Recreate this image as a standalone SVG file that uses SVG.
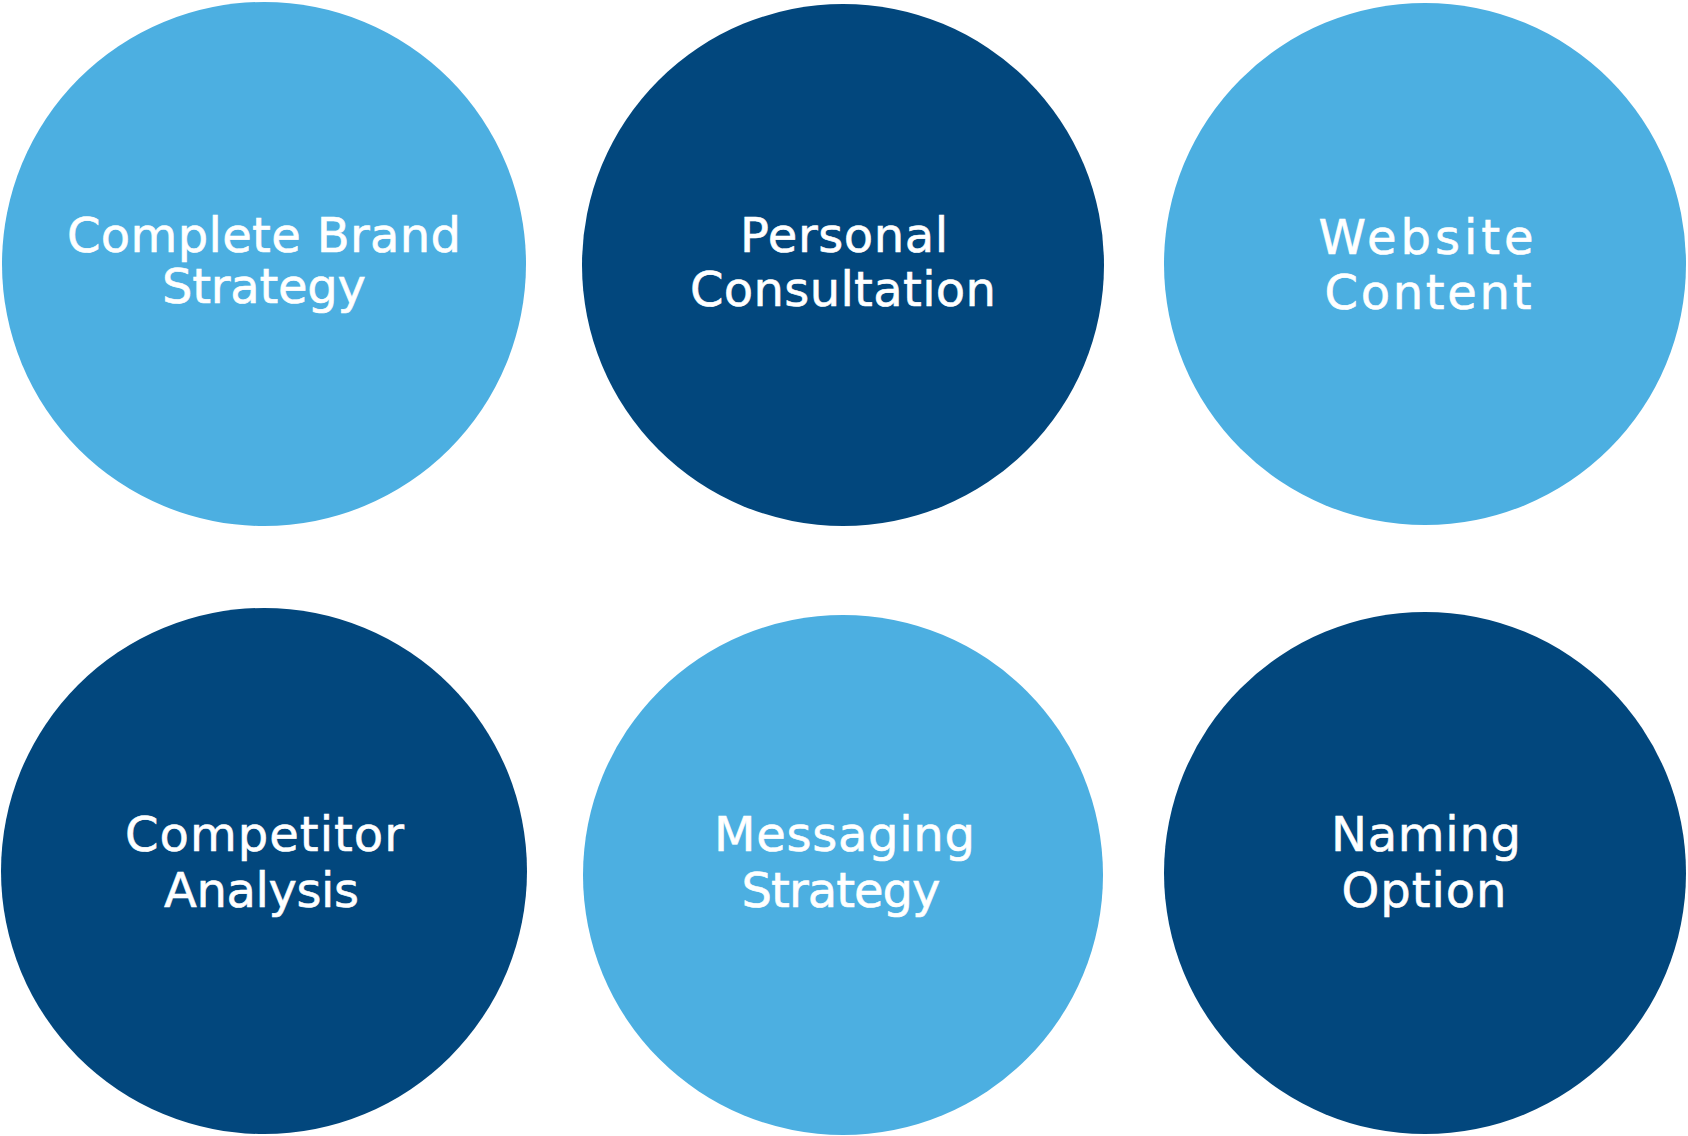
<svg xmlns="http://www.w3.org/2000/svg" width="1688" height="1136" viewBox="0 0 1688 1136">
  <style>
    .light { fill: #4CAFE1; }
    .dark { fill: #02477D; }
    .label { fill: #FFFFFF; stroke: #FFFFFF; stroke-width: 0.6px; font-family: "DejaVu Sans", "Noto Sans", sans-serif; font-size: 48px; text-anchor: middle; }
  </style>
  <rect width="1688" height="1136" fill="#FFFFFF"/>
  <g id="connectors"></g>
  <g id="node-complete-brand-strategy">
    <circle class="light" cx="264" cy="264" r="262"/>
    <text class="label" x="264" y="252" textLength="394" lengthAdjust="spacing">Complete Brand</text>
    <text class="label" x="264" y="303" textLength="204" lengthAdjust="spacing">Strategy</text>
  </g>
  <g id="node-personal-consultation">
    <circle class="dark" cx="843" cy="265" r="261"/>
    <text class="label" x="844" y="252" textLength="208" lengthAdjust="spacing">Personal</text>
    <text class="label" x="843" y="306" textLength="306" lengthAdjust="spacing">Consultation</text>
  </g>
  <g id="node-website-content">
    <circle class="light" cx="1425" cy="264" r="261"/>
    <text class="label" x="1426" y="254" textLength="215" lengthAdjust="spacing">Website</text>
    <text class="label" x="1428" y="309" textLength="207" lengthAdjust="spacing">Content</text>
  </g>
  <g id="node-competitor-analysis">
    <circle class="dark" cx="264" cy="871" r="263"/>
    <text class="label" x="264.5" y="851" textLength="279" lengthAdjust="spacing">Competitor</text>
    <text class="label" x="261.5" y="907" textLength="195" lengthAdjust="spacing">Analysis</text>
  </g>
  <g id="node-messaging-strategy">
    <circle class="light" cx="843" cy="875" r="260"/>
    <text class="label" x="844.5" y="851" textLength="261" lengthAdjust="spacing">Messaging</text>
    <text class="label" x="841" y="907" textLength="199" lengthAdjust="spacing">Strategy</text>
  </g>
  <g id="node-naming-option">
    <circle class="dark" cx="1425" cy="873" r="261"/>
    <text class="label" x="1426" y="851" textLength="190" lengthAdjust="spacing">Naming</text>
    <text class="label" x="1424" y="907" textLength="165" lengthAdjust="spacing">Option</text>
  </g>
</svg>
